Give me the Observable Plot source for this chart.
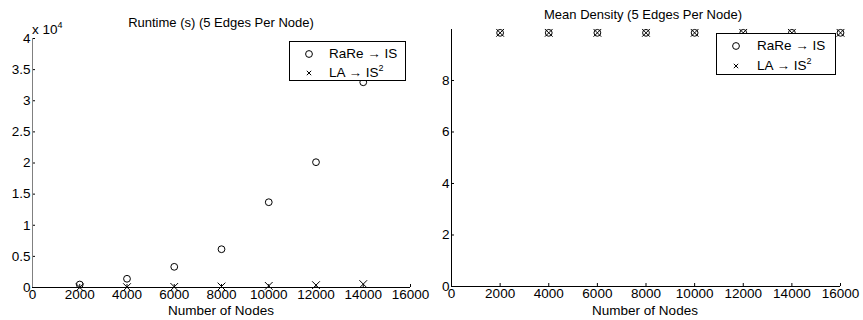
<!DOCTYPE html>
<html>
<head>
<meta charset="utf-8">
<script src="https://cdn.jsdelivr.net/npm/d3@7"></script>
<script src="https://cdn.jsdelivr.net/npm/@observablehq/plot@0.6"></script>
<style>
  html, body { margin: 0; padding: 0; background: #fff; }
  #root { position: relative; width: 863px; height: 320px; overflow: hidden; font-family: "Liberation Sans", Arial, sans-serif; color: #000; }
  .abs { position: absolute; white-space: nowrap; font-size: 13.5px; line-height: 1; }
  .title { font-size: 13px; }
  .center { transform: translate(-50%, -50%); }
  .legend { position: absolute; border: 1px solid #000; background: #fff; box-sizing: border-box; }
  .legend .row { position: absolute; left: 0; height: 16px; font-size: 13.5px; line-height: 16px; white-space: nowrap; }
  .legend svg { position: absolute; top: 0; }
  .legend .lbl { position: absolute; top: 0; }
  sup { font-size: 9px; vertical-align: 0; position: relative; top: -6px; }
  .plotwrap { position: absolute; top: 0; }
  .plotwrap svg text { font-size: 13.5px !important; font-family: "Liberation Sans", Arial, sans-serif !important; }
</style>
</head>
<body>
<div id="root"></div>
<script>
// ---- data ----
const runtimeNodes = [2000, 4000, 6000, 8000, 10000, 12000, 14000];
const runtimeRaRe = [480, 1400, 3320, 6150, 13700, 20130, 32970];
const runtimeLA = [20, 60, 100, 160, 260, 380, 550];

const densityNodes = [2000, 4000, 6000, 8000, 10000, 12000, 14000, 16000];
const densityRaRe = [9.85, 9.85, 9.85, 9.85, 9.85, 9.85, 9.85, 9.85];
const densityLA = [9.85, 9.85, 9.85, 9.85, 9.85, 9.85, 9.85, 9.85];

const xTicks = [0, 2000, 4000, 6000, 8000, 10000, 12000, 14000, 16000];
const runtimeYTicks = [0, 5000, 10000, 15000, 20000, 25000, 30000, 35000, 40000];
const densityYTicks = [0, 2, 4, 6, 8];

const seriesNames = ["RaRe \u2192 IS", "LA \u2192 IS"];

const root = document.getElementById("root");
const FONT = "Liberation Sans, Arial, sans-serif";

function scatter({width, height, margins, xDomain, yDomain, yTicks, yFormat, nodes, a, b, yAxisColor}) {
  const dataA = nodes.map((n, i) => ({n, v: a[i]}));
  const dataB = nodes.map((n, i) => ({n, v: b[i]}));
  return Plot.plot({
    width, height,
    marginLeft: margins[0], marginRight: margins[1], marginTop: margins[2], marginBottom: margins[3],
    style: {fontFamily: FONT, fontSize: "13.5px", color: "#000", background: "transparent", overflow: "visible"},
    x: {domain: xDomain},
    y: {domain: yDomain},
    marks: [
      Plot.axisX({ticks: xTicks, tickSize: -3, tickPadding: 5, tickFormat: d => String(d), label: null, stroke: "#000", fill: "#000"}),
      Plot.axisY({ticks: yTicks, tickSize: -3, tickPadding: 5, tickFormat: yFormat, label: null, stroke: "#000", fill: "#000"}),
      Plot.ruleY([yDomain[0]], {stroke: "#000", strokeWidth: 1}),
      Plot.ruleX([xDomain[0]], {stroke: yAxisColor, strokeWidth: 1}),
      Plot.dot(dataA, {x: "n", y: "v", r: 3.4, stroke: "#000", strokeWidth: 1, fill: "none"}),
      Plot.dot(dataB, {x: "n", y: "v", r: 3.6, symbol: "times", stroke: "#000", strokeWidth: 1})
    ]
  });
}

function place(el, left) {
  const w = document.createElement("div");
  w.className = "plotwrap";
  w.style.left = left + "px";
  w.appendChild(el);
  root.appendChild(w);
}

function text(html, x, y, cls) {
  const d = document.createElement("div");
  d.className = "abs " + (cls || "");
  d.style.left = x + "px";
  d.style.top = y + "px";
  d.innerHTML = html;
  root.appendChild(d);
  return d;
}

function legend(left, top, width, height, symX, txtX, rowYs) {
  const box = document.createElement("div");
  box.className = "legend";
  Object.assign(box.style, {left: left + "px", top: top + "px", width: width + "px", height: height + "px"});
  const labels = [seriesNames[0], seriesNames[1] + "<sup>2</sup>"];
  const syms = ["circle", "times"];
  labels.forEach((lab, i) => {
    const row = document.createElement("div");
    row.className = "row";
    row.style.top = (rowYs[i] - 8) + "px";
    row.style.width = width + "px";
    const s = d3.create("svg").attr("width", 12).attr("height", 16).style("left", (symX - 6) + "px");
    if (syms[i] === "circle") {
      s.append("circle").attr("cx", 6).attr("cy", 8).attr("r", 3.4).attr("fill", "none").attr("stroke", "#000");
    } else {
      s.append("path").attr("d", "M3.8,5.8L8.2,10.2M3.8,10.2L8.2,5.8").attr("stroke", "#000").attr("fill", "none");
    }
    row.appendChild(s.node());
    const t = document.createElement("span");
    t.className = "lbl";
    t.style.left = txtX + "px";
    t.innerHTML = lab;
    row.appendChild(t);
    box.appendChild(row);
  });
  root.appendChild(box);
}

// Left: runtime
place(scatter({
  width: 430, height: 320, margins: [32, 20, 38, 33],
  xDomain: [0, 16000], yDomain: [0, 40000], yTicks: runtimeYTicks,
  yFormat: d => String(d / 10000),
  nodes: runtimeNodes, a: runtimeRaRe, b: runtimeLA, yAxisColor: "#808080"
}), 0);

// Right: density
place(scatter({
  width: 433, height: 320, margins: [21, 23, 29, 34],
  xDomain: [0, 16000], yDomain: [0, 9.98], yTicks: densityYTicks,
  yFormat: d => String(d),
  nodes: densityNodes, a: densityRaRe, b: densityLA, yAxisColor: "#000"
}), 430);

// Titles and labels
text("Runtime (s) (5 Edges Per Node)", 221, 22, "center title");
text("Mean Density (5 Edges Per Node)", 643, 14, "center title");
text("Number of Nodes", 221, 311, "center");
text("Number of Nodes", 645, 311, "center");
text("x 10<sup>4</sup>", 32, 23, "");

// Legends
legend(289, 41, 117, 40, 19, 39, [12, 31]);
legend(716, 33, 120, 42, 19, 40, [12, 32]);
</script>
</body>
</html>
